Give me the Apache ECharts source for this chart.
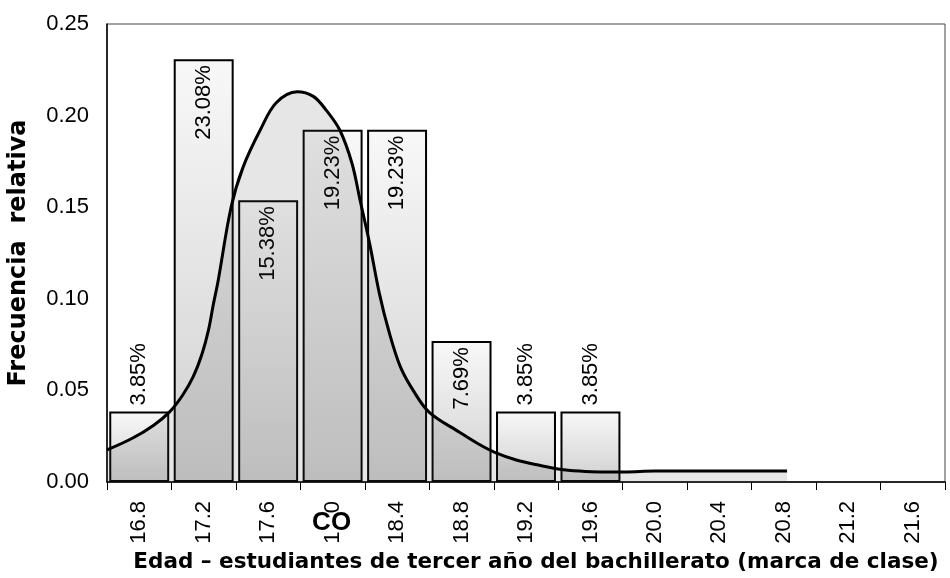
<!DOCTYPE html>
<html>
<head>
<meta charset="utf-8">
<script src="https://cdn.jsdelivr.net/npm/echarts@6/dist/echarts.min.js"></script>
<style>
html,body{margin:0;padding:0;background:#fff;}
#chart{width:950px;height:578px;}
</style>
</head>
<body>
<div id="chart"></div>
<script>
// ---- data ----
const categories = ['16.8','17.2','17.6','18.0','18.4','18.8','19.2','19.6','20.0','20.4','20.8','21.2','21.6'];
const relFreq = [0.0385, 0.2308, 0.1538, 0.1923, 0.1923, 0.0769, 0.0385, 0.0385, null, null, null, null, null];
const pctLabels = ['3.85%','23.08%','15.38%','19.23%','19.23%','7.69%','3.85%','3.85%','','','','',''];
const yTicks = [0, 0.05, 0.10, 0.15, 0.20, 0.25];
const coCategory = '18.0';
const coText = 'CO';
// fitted curve (age, relative frequency)
const curveX = [16.60, 16.76, 16.89, 16.99, 17.07, 17.135, 17.19, 17.23, 17.26, 17.29, 17.37, 17.445, 17.55, 17.65, 17.78, 17.88, 17.96, 18.045, 18.12, 18.17, 18.23, 18.29, 18.35, 18.42, 18.50, 18.60, 18.79, 18.90, 19.01, 19.14, 19.29, 19.41, 19.53, 19.66, 19.81, 20.00, 20.28, 20.82];
const curveY = [0.0175, 0.024, 0.031, 0.0384, 0.0475, 0.0575, 0.070, 0.083, 0.097, 0.110, 0.150, 0.172, 0.192, 0.207, 0.213, 0.2105, 0.203, 0.192, 0.174, 0.154, 0.130, 0.103, 0.082, 0.063, 0.050, 0.038, 0.027, 0.021, 0.016, 0.012, 0.009, 0.007, 0.006, 0.0055, 0.0055, 0.006, 0.006, 0.006];

const FONT = 'Liberation Sans, Arial, sans-serif';
const TITLE_FONT = 'DejaVu Sans, sans-serif';

const barData = relFreq.map((v, i) => {
  if (v === null) return '-';
  const inside = v > 0.06;
  return {
    value: v,
    label: inside ? {
      show: true, position: 'insideTop', rotate: 90, align: 'right', verticalAlign: 'middle',
      distance: 6, formatter: pctLabels[i]
    } : {
      show: true, position: 'top', rotate: 90, align: 'left', verticalAlign: 'middle',
      distance: 6, formatter: pctLabels[i]
    }
  };
});

const curveData = curveX.map((x, i) => [x, curveY[i]]);

const chart = echarts.init(document.getElementById('chart'), null, {renderer: 'canvas'});
const option = {
  animation: false,
  backgroundColor: '#fff',
  grid: {left: 107, right: 5, top: 24, bottom: 96, show: true, borderColor: '#444', borderWidth: 1,
    containLabel: false, outerBoundsMode: 'none'},
  xAxis: [{
    type: 'category',
    data: categories,
    boundaryGap: true,
    axisLine: {lineStyle: {color: '#000', width: 1.5}},
    axisTick: {show: true, length: 8, lineStyle: {color: '#000', width: 1}},
    axisLabel: {
      rotate: 90, margin: 19, fontSize: 22, color: '#000', fontFamily: FONT,
      // the middle "8." of the 18.0 label is hidden under the "CO" mark
      formatter: v => v === coCategory ? v.charAt(0) + '\u2007\u2008' + v.charAt(v.length - 1) : v
    },
    name: 'Edad – estudiantes de tercer año del bachillerato (marca de clase)',
    nameLocation: 'middle',
    nameGap: 66,
    nameTextStyle: {fontSize: 21.5, fontWeight: 'bold', color: '#000', fontFamily: TITLE_FONT, padding: [0, 0, 0, 20]}
  }, {
    type: 'value',
    min: 16.6, max: 21.8,
    show: false
  }],
  yAxis: {
    type: 'value',
    min: 0, max: 0.25, interval: 0.05,
    axisLine: {show: true, lineStyle: {color: '#000', width: 1.5}},
    axisTick: {show: false},
    splitLine: {show: false},
    axisLabel: {fontSize: 22, color: '#000', fontFamily: FONT, margin: 18,
      formatter: v => yTicks.find(t => Math.abs(t - v) < 1e-9) !== undefined ? v.toFixed(2) : ''},
    name: 'Frecuencia  relativa',
    nameLocation: 'middle',
    nameGap: 76,
    nameTextStyle: {fontSize: 24, fontWeight: 'bold', color: '#000', fontFamily: TITLE_FONT}
  },
  series: [{
    type: 'bar',
    data: barData,
    xAxisIndex: 0,
    barCategoryGap: '7%',
    itemStyle: {
      borderColor: '#000', borderWidth: 2,
      color: new echarts.graphic.LinearGradient(0, 0, 0, 1, [
        {offset: 0, color: '#f8f8f8'},
        {offset: 1, color: '#d0d0d0'}
      ])
    },
    label: {fontSize: 22, color: '#000', fontFamily: FONT},
    z: 2
  }, {
    type: 'line',
    data: curveData,
    xAxisIndex: 1,
    smooth: 0.35,
    showSymbol: false,
    symbol: 'none',
    lineStyle: {color: '#000', width: 3},
    areaStyle: {color: 'rgba(80,80,80,0.2)', origin: 'start'},
    z: 3
  }]
};
chart.setOption(option);

// "CO" annotation placed over the 18.0 category label
const p = chart.convertToPixel({xAxisIndex: 0, yAxisIndex: 0}, [coCategory, 0]);
chart.setOption({
  graphic: [{
    type: 'text',
    x: p[0] - 1, y: p[1] + 41,
    style: {
      text: coText, fontSize: 26, fontWeight: 'bold', fontFamily: FONT, fill: '#000',
      align: 'center', verticalAlign: 'middle'
    },
    z: 100
  }]
});
</script>
</body>
</html>
